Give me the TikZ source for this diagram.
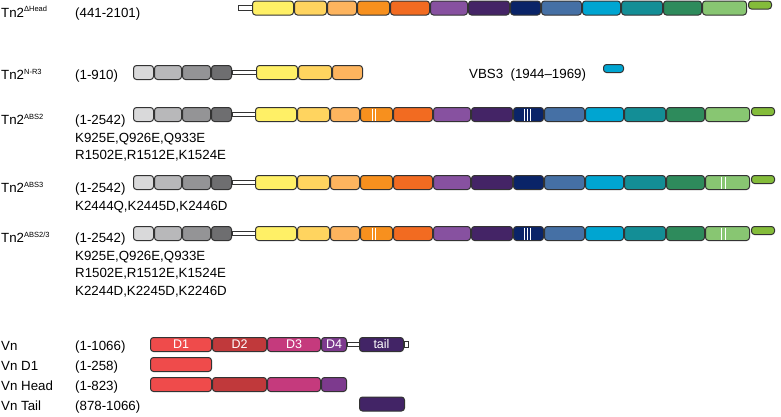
\documentclass[tikz,border=0pt]{standalone}
\usepackage{fontspec}
\setmainfont{Liberation Sans}
\usetikzlibrary{positioning, calc}

\definecolor{tnYellow}{RGB}{255,240,102}
\definecolor{tnGold}{RGB}{255,212,95}
\definecolor{tnApricot}{RGB}{253,180,94}
\definecolor{tnOrange}{RGB}{247,144,30}
\definecolor{tnRust}{RGB}{242,107,33}
\definecolor{tnViolet}{RGB}{135,81,160}
\definecolor{tnPlum}{RGB}{68,36,102}
\definecolor{tnNavy}{RGB}{10,36,104}
\definecolor{tnSteel}{RGB}{69,112,165}
\definecolor{tnCyan}{RGB}{0,165,209}
\definecolor{tnTeal}{RGB}{19,142,150}
\definecolor{tnGreen}{RGB}{46,139,92}
\definecolor{tnMint}{RGB}{136,198,114}
\definecolor{tnLime}{RGB}{132,188,58}
\definecolor{grA}{RGB}{217,217,218}
\definecolor{grB}{RGB}{184,184,186}
\definecolor{grC}{RGB}{148,148,150}
\definecolor{grD}{RGB}{110,110,112}
\definecolor{vnCoral}{RGB}{239,75,75}
\definecolor{vnBrick}{RGB}{192,57,59}
\definecolor{vnBerry}{RGB}{197,58,125}
\definecolor{vnGrape}{RGB}{125,58,142}
\definecolor{vnInk}{RGB}{66,36,102}

% small raised tag after Tn2
\newcommand{\tnsup}[1]{\raisebox{5.5pt}{\fontsize{7.5}{8}\selectfont #1}}
% R1-R13 rod domains, then the short lime piece
\newcommand{\tnrod}[3]{%
  \foreach \xa/\xb/\clr [count=\i] in {0/42/tnYellow, 42/75/tnGold, 75/105/tnApricot, 105/138/tnOrange, 138/178/tnRust, 178/216/tnViolet, 216/258/tnPlum, 258/289/tnNavy, 289/330/tnSteel, 330/369/tnCyan, 369/411/tnTeal, 411/450/tnGreen, 450/495/tnMint}
    \node[segbox, fill=\clr, minimum width={\xb-\xa-1}] (#1-\i) at ({#2+(\xa+\xb)/2}, #3) {};
  \node[segbox, fill=tnLime, minimum width=23, minimum height=8, anchor=north west] (#1-14) at ($(#1-13.north east)+(1,0)$) {};
}
% four grey head domains
\newcommand{\tnhead}[2]{%
  \foreach \xa/\xb/\clr [count=\i] in {133/154/grA, 154/182/grB, 182/211/grC, 211/232/grD}
    \node[segbox, fill=\clr, minimum width={\xb-\xa-1}] (#1-h\i) at ({(\xa+\xb)/2}, #2) {};
}
\newcommand{\tnlink}[3][2]{\draw[linkbar] ($(#2.east)+(0,-#1)$) rectangle ($(#3.west)+(0,#1)$);}

\begin{document}
\begin{tikzpicture}[x=1pt, y=-1pt,
    segbox/.style={rectangle, draw=black!80, line width=1pt, rounded corners=3pt, inner sep=0pt, minimum height=14pt, text=white, font=\fontsize{12.5}{14}\selectfont},
    linkbar/.style={draw=black!80, line width=0.8pt, fill=white},
    stripe/.style={draw=white, line width=0.7pt, shorten <=1.5pt, shorten >=1.5pt},
    lbl/.style={anchor=base west, inner sep=0pt, font=\fontsize{13.3}{16}\selectfont}
]
    \useasboundingbox (0,0) rectangle (781,416);

    % Tn2 delta head
    \coordinate (dh-start) at (238,8);
    \tnrod{dh}{252}{8}
    \draw[linkbar] ($(dh-start)+(0,-2.5)$) rectangle ($(dh-1.west)+(0,2.5)$);
    \node[lbl] (dh-name) at (1,17) {Tn2\tnsup{ΔHead}};
    \node[lbl] (dh-range) at (75,17) {(441-2101)};

    % Tn2 N-R3 and VBS3
    \tnhead{nr}{72.5}
    \node[segbox, fill=tnYellow, minimum width=41] (nr-1) at (277,72.5) {};
    \node[segbox, fill=tnGold, minimum width=33] (nr-2) at (315,72.5) {};
    \node[segbox, fill=tnApricot, minimum width=30] (nr-3) at (347.5,72.5) {};
    \tnlink{nr-h4}{nr-1}
    \node[lbl] (nr-name) at (1,79.5) {Tn2\tnsup{N-R3}};
    \node[lbl] (nr-range) at (75,79.5) {(1-910)};
    \node[lbl] (vbs-name) at (469,78) {VBS3\ \ (1944–1969)};
    \node[segbox, fill=tnCyan, minimum width=20, minimum height=8, anchor=north west] (vbs) at (603,64) {};

    % Tn2 ABS2
    \tnhead{abstwo}{114.5}
    \tnrod{abstwo}{255}{114.5}
    \tnlink{abstwo-h4}{abstwo-1}
    \foreach \dx in {12,15} \draw[stripe] ([xshift=\dx]abstwo-4.north west) -- ([xshift=\dx]abstwo-4.south west);
    \foreach \dx in {11,14,17} \draw[stripe] ([xshift=\dx]abstwo-8.north west) -- ([xshift=\dx]abstwo-8.south west);
    \node[lbl] (abstwo-name) at (1,124.5) {Tn2\tnsup{ABS2}};
    \node[lbl] (abstwo-range) at (75,124.5) {(1-2542)};
    \node[lbl] (abstwo-mA) at (75,142.2) {K925E,Q926E,Q933E};
    \node[lbl] (abstwo-mB) at (75,159.9) {R1502E,R1512E,K1524E};

    % Tn2 ABS3
    \tnhead{absthree}{182.5}
    \tnrod{absthree}{255}{182.5}
    \tnlink{absthree-h4}{absthree-1}
    \foreach \dx in {16,20.5} \draw[stripe] ([xshift=\dx]absthree-13.north west) -- ([xshift=\dx]absthree-13.south west);
    \node[lbl] (absthree-name) at (1,192.5) {Tn2\tnsup{ABS3}};
    \node[lbl] (absthree-range) at (75,192.5) {(1-2542)};
    \node[lbl] (absthree-mA) at (75,210.2) {K2444Q,K2445D,K2446D};

    % Tn2 ABS2/3
    \tnhead{absboth}{233.5}
    \tnrod{absboth}{255}{233.5}
    \tnlink{absboth-h4}{absboth-1}
    \foreach \dx in {12,15} \draw[stripe] ([xshift=\dx]absboth-4.north west) -- ([xshift=\dx]absboth-4.south west);
    \foreach \dx in {11,14,17} \draw[stripe] ([xshift=\dx]absboth-8.north west) -- ([xshift=\dx]absboth-8.south west);
    \foreach \dx in {16,20.5} \draw[stripe] ([xshift=\dx]absboth-13.north west) -- ([xshift=\dx]absboth-13.south west);
    \node[lbl] (absboth-name) at (1,242.5) {Tn2\tnsup{ABS2/3}};
    \node[lbl] (absboth-range) at (75,242.5) {(1-2542)};
    \node[lbl] (absboth-mA) at (75,260.2) {K925E,Q926E,Q933E};
    \node[lbl] (absboth-mB) at (75,277.9) {R1502E,R1512E,K1524E};
    \node[lbl] (absboth-mC) at (75,295.6) {K2244D,K2245D,K2246D};

    % Vinculin constructs
    \node[segbox, fill=vnCoral, minimum width=61] (vn-d1) at (181,344.5) {D1};
    \node[segbox, fill=vnBrick, minimum width=54] (vn-d2) at (239.5,344.5) {D2};
    \node[segbox, fill=vnBerry, minimum width=53] (vn-d3) at (294,344.5) {D3};
    \node[segbox, fill=vnGrape, minimum width=25] (vn-d4) at (334,344.5) {D4};
    \node[segbox, fill=vnInk, minimum width=44] (vn-tail) at (381.5,344.5) {tail};
    \coordinate (vn-end) at (408,344.5);
    \tnlink{vn-d4}{vn-tail}
    \draw[linkbar] ($(vn-tail.east)+(0,-3)$) rectangle ($(vn-end)+(0,3)$);
    \node[lbl] (vn-name) at (1,350) {Vn};
    \node[lbl] (vn-range) at (75,350) {(1-1066)};

    \node[segbox, fill=vnCoral, minimum width=61] (vdone-d1) at (181,364.5) {};
    \node[lbl] (vdone-name) at (1,370) {Vn D1};
    \node[lbl] (vdone-range) at (75,370) {(1-258)};

    \node[segbox, fill=vnCoral, minimum width=61] (vhead-d1) at (181,384.5) {};
    \node[segbox, fill=vnBrick, minimum width=54] (vhead-d2) at (239.5,384.5) {};
    \node[segbox, fill=vnBerry, minimum width=53] (vhead-d3) at (294,384.5) {};
    \node[segbox, fill=vnGrape, minimum width=25] (vhead-d4) at (334,384.5) {};
    \node[lbl] (vhead-name) at (1,390) {Vn Head};
    \node[lbl] (vhead-range) at (75,390) {(1-823)};

    \node[segbox, fill=vnInk, minimum width=45] (vtail-t) at (382,404) {};
    \node[lbl] (vtail-name) at (1,410) {Vn Tail};
    \node[lbl] (vtail-range) at (75,410) {(878-1066)};
\end{tikzpicture}
\end{document}
